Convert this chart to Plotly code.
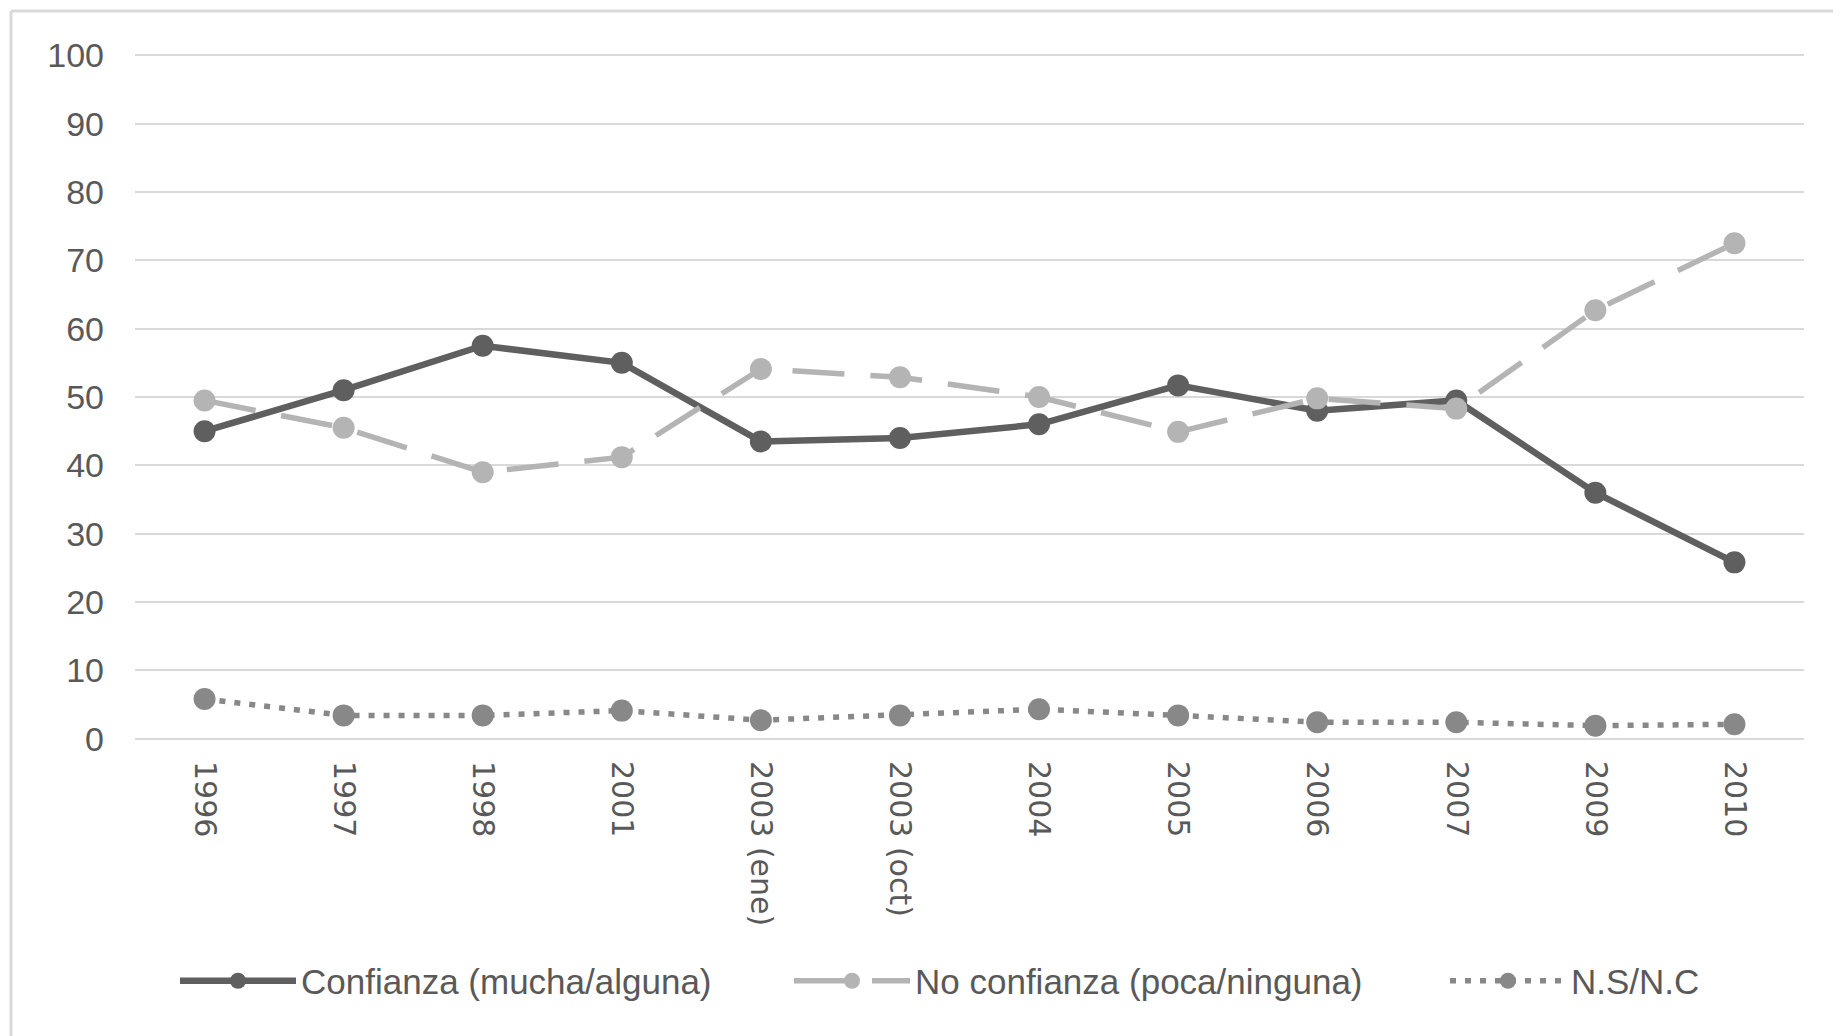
import plotly.graph_objects as go

categories = ["1996", "1997", "1998", "2001", "2003 (ene)", "2003 (oct)",
              "2004", "2005", "2006", "2007", "2009", "2010"]
confianza = [45, 51, 57.5, 55, 43.5, 44, 46, 51.7, 48, 49.5, 36, 25.8]
no_confianza = [49.5, 45.5, 39, 41.2, 54.1, 52.9, 50, 44.9, 49.8, 48.3, 62.7, 72.5]
ns_nc = [5.8, 3.4, 3.4, 4.1, 2.7, 3.4, 4.3, 3.4, 2.4, 2.4, 1.9, 2.1]

names = ["Confianza (mucha/alguna)", "No confianza (poca/ninguna)", "N.S/N.C"]
colors = ["#5f5f5f", "#b4b4b4", "#888888"]
dashes = ["solid", "52px,26px", "6px,9px"]
legend_ids = ["legend", "legend2", "legend3"]
legend_x_px = [167, 781, 1437]

W, H = 1841, 1036
ML, MR, MT, MB = 127, 45, 46, 304
LEG_Y_PX = 973

fig = go.Figure()
for name, vals, col, dsh, lg in zip(names, [confianza, no_confianza, ns_nc], colors, dashes, legend_ids):
    fig.add_trace(go.Scatter(
        x=categories, y=vals, name=name, mode="lines+markers",
        line=dict(color=col, width=6.5 if dsh == "solid" else 5.5, dash=dsh),
        marker=dict(color=col, size=22),
        legend=lg,
    ))

TXT = "#595959"
FONT = "Liberation Sans Narrow, Liberation Sans, sans-serif"
leg_common = dict(orientation="h", xref="container", yref="container",
                  xanchor="left", yanchor="middle", y=1 - LEG_Y_PX / H,
                  itemwidth=116, font=dict(size=35, family=FONT, color=TXT),
                  bgcolor="rgba(0,0,0,0)")
layout_legends = {lg: dict(leg_common, x=xp / W) for lg, xp in zip(legend_ids, legend_x_px)}

fig.update_layout(
    width=W, height=H,
    margin=dict(l=ML, r=MR, t=MT, b=MB, autoexpand=False),
    paper_bgcolor="white", plot_bgcolor="white",
    font=dict(family=FONT, color=TXT, size=30),
    showlegend=True,
    **layout_legends,
)
fig.update_yaxes(range=[-0.2, 100.2], tickvals=list(range(0, 101, 10)), showgrid=True,
                 gridcolor="#d9d9d9", gridwidth=1.5, automargin=False,
                 zeroline=False, showline=False, ticks="", ticklabelstandoff=30,
                 tickfont=dict(size=34, color=TXT))
fig.update_xaxes(type="category", range=[-0.5, len(categories) - 0.5], tickangle=90,
                 showgrid=False, showline=False, zeroline=False, automargin=False,
                 ticks="", ticklabelstandoff=20,
                 tickfont=dict(family="DejaVu Sans", size=30, color=TXT))

# light frame lines (top and left) of the chart area
pw, ph = W - ML - MR, H - MT - MB
fx0 = (3 - ML) / pw
fy1 = 1 + (MT - 3) / ph
fig.add_shape(type="line", xref="paper", yref="paper", x0=fx0, x1=(W - ML) / pw, y0=fy1, y1=fy1,
              line=dict(color="#d9d9d9", width=3), layer="below")
fig.add_shape(type="line", xref="paper", yref="paper", x0=fx0, x1=fx0, y0=-(MB) / ph, y1=fy1,
              line=dict(color="#d9d9d9", width=3), layer="below")

fig.write_html("out.html")
